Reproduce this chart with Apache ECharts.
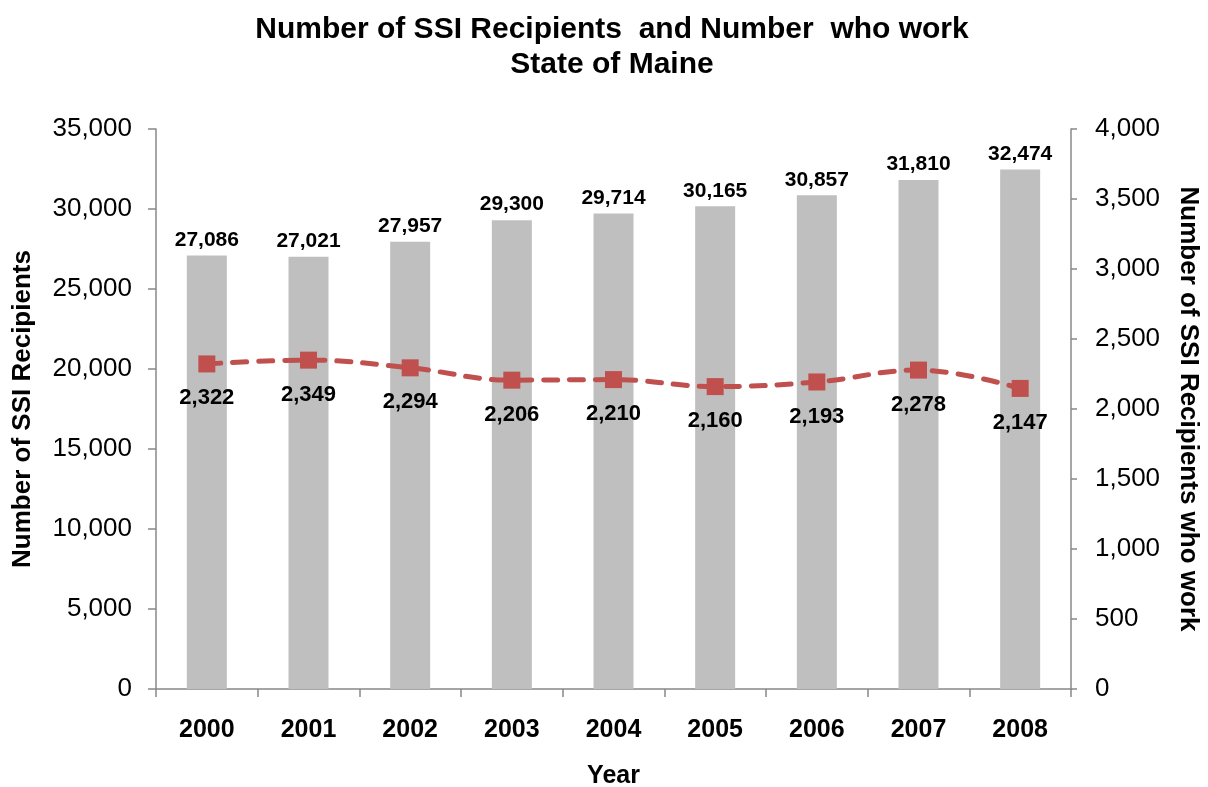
<!DOCTYPE html>
<html><head><meta charset="utf-8">
<script src="https://cdn.jsdelivr.net/npm/echarts@6/dist/echarts.min.js"></script>
<style>html,body{margin:0;padding:0;background:#fff}#c{width:1208px;height:787px}</style>
</head><body><div id="c"></div>
<script>
const years = ['2000','2001','2002','2003','2004','2005','2006','2007','2008'];
const recipients = [27086,27021,27957,29300,29714,30165,30857,31810,32474];
const workers = [2322,2349,2294,2206,2210,2160,2193,2278,2147];
const F = '"Liberation Sans", Arial, sans-serif';
const fmt = v => Number(v).toLocaleString('en-US');
const chart = echarts.init(document.getElementById('c'));
chart.setOption({
  animation:false,
  title:{text:'Number of SSI Recipients  and Number  who work\nState of Maine',left:607,textAlign:'center',top:7,
    textStyle:{fontFamily:F,fontSize:30,fontWeight:'bold',color:'#000',lineHeight:35}},
  grid:{left:156,right:137,top:129,bottom:98,outerBoundsMode:'none',containLabel:false},
  xAxis:{type:'category',data:years,name:'Year',nameLocation:'middle',nameGap:75,
    nameTextStyle:{fontFamily:F,fontSize:25,fontWeight:'bold',color:'#000'},
    axisLine:{lineStyle:{color:'#888',width:1.5}},
    axisTick:{show:true,length:8,lineStyle:{color:'#888',width:1.5}},
    axisLabel:{fontFamily:F,fontSize:25,fontWeight:'bold',color:'#000',margin:29}},
  yAxis:[{type:'value',min:0,max:35000,interval:5000,name:'Number of SSI Recipients',nameLocation:'middle',nameGap:120,
    nameTextStyle:{fontFamily:F,fontSize:26,fontWeight:'bold',color:'#000'},
    axisLine:{show:true,lineStyle:{color:'#888',width:1.5}},
    axisTick:{show:true,length:8,lineStyle:{color:'#888',width:1.5}},
    splitLine:{show:false},
    axisLabel:{fontFamily:F,fontSize:26,color:'#000',margin:24,formatter:fmt}},
   {type:'value',min:0,max:4000,interval:500,name:'Number of SSI Recipients who work',nameLocation:'middle',nameGap:104,nameRotate:-90,
    nameTextStyle:{fontFamily:F,fontSize:26,fontWeight:'bold',color:'#000'},
    axisLine:{show:true,lineStyle:{color:'#888',width:1.5}},
    axisTick:{show:true,length:6,lineStyle:{color:'#888',width:1.5}},
    splitLine:{show:false},
    axisLabel:{fontFamily:F,fontSize:26,color:'#000',margin:24,formatter:fmt}}],
  series:[
    {type:'bar',data:recipients,barWidth:40,itemStyle:{color:'#bfbfbf'},
     label:{show:true,position:'top',distance:5,fontFamily:F,fontSize:21,fontWeight:'bold',color:'#000',formatter:p=>fmt(p.value)}},
    {type:'line',yAxisIndex:1,data:workers,smooth:0.4,symbol:'rect',symbolSize:17,
     lineStyle:{color:'#c0504d',width:5,type:[14,12],cap:'round'},itemStyle:{color:'#c0504d'},
     label:{show:true,position:'bottom',distance:15,fontFamily:F,fontSize:22,fontWeight:'bold',color:'#000',formatter:p=>fmt(p.value)}}
  ]
});
</script></body></html>
